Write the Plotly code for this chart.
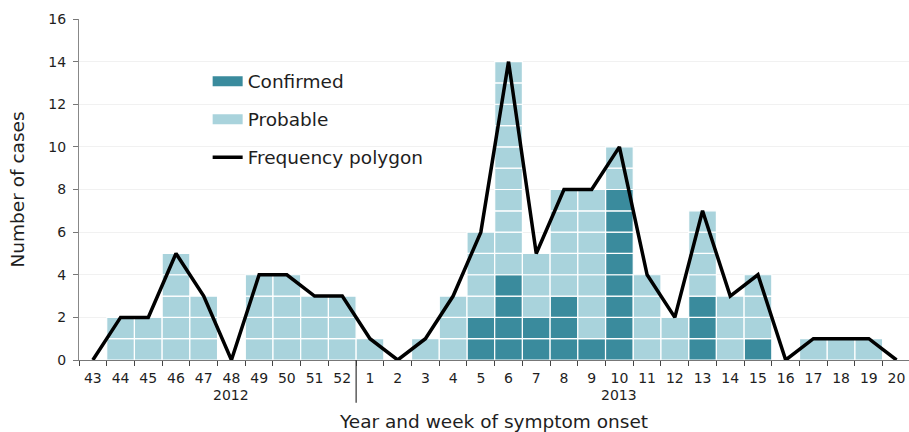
import plotly.graph_objects as go

weeks = ["43", "44", "45", "46", "47", "48", "49", "50", "51", "52",
         "1", "2", "3", "4", "5", "6", "7", "8", "9", "10",
         "11", "12", "13", "14", "15", "16", "17", "18", "19", "20"]
confirmed = [0, 0, 0, 0, 0, 0, 0, 0, 0, 0,
             0, 0, 0, 0, 2, 4, 2, 3, 1, 8,
             0, 0, 3, 0, 1, 0, 0, 0, 0, 0]
probable = [0, 2, 2, 5, 3, 0, 4, 4, 3, 3,
            1, 0, 1, 3, 4, 10, 3, 5, 7, 2,
            4, 2, 4, 3, 3, 0, 1, 1, 1, 0]
year_labels = ["2012", "2013"]
year_label_weeks = ["48", "10"]

C_CONF = "#3a8b9d"
C_PROB = "#a9d3dc"
FONT = "DejaVu Sans"
TXT = "#1e1e1e"

totals = [c + p for c, p in zip(confirmed, probable)]

# unit cells (one square per case)
cx, cb = [], []
px, pb = [], []
for w, c, p in zip(weeks, confirmed, probable):
    for k in range(c):
        cx.append(w); cb.append(k)
    for k in range(p):
        px.append(w); pb.append(c + k)

fig = go.Figure()
fig.add_trace(go.Bar(x=cx, y=[1] * len(cx), base=cb, width=1,
                     marker=dict(color=C_CONF, line=dict(color="white", width=1.2)),
                     showlegend=False, hoverinfo="skip"))
fig.add_trace(go.Bar(x=px, y=[1] * len(px), base=pb, width=1,
                     marker=dict(color=C_PROB, line=dict(color="white", width=1.2)),
                     showlegend=False, hoverinfo="skip"))
fig.add_trace(go.Scatter(x=weeks, y=totals, mode="lines",
                         line=dict(color="black", width=3.5),
                         showlegend=False))

# legend entries
fig.add_trace(go.Scatter(x=[None], y=[None], mode="lines", name="Confirmed",
                         line=dict(color=C_CONF, width=12), legendgroup="a"))
fig.add_trace(go.Scatter(x=[None], y=[None], mode="lines", name="Probable",
                         line=dict(color=C_PROB, width=12), legendgroup="b"))
fig.add_trace(go.Scatter(x=[None], y=[None], mode="lines", name="Frequency polygon",
                         line=dict(color="black", width=3.5), legendgroup="c"))

for lab, wk in zip(year_labels, year_label_weeks):
    fig.add_annotation(x=weeks.index(wk), y=-0.103, xref="x", yref="paper", text=lab,
                       showarrow=False, font=dict(family=FONT, size=14, color=TXT),
                       yanchor="middle")

fig.add_shape(type="line", x0=9.5, x1=9.5, xref="x", y0=0, y1=-0.125, yref="paper",
              line=dict(color="#333333", width=1.2))

fig.update_layout(
    width=909, height=432,
    margin=dict(l=79, r=0, t=19, b=72),
    barmode="overlay",
    plot_bgcolor="white", paper_bgcolor="white",
    font=dict(family=FONT, size=14, color=TXT),
    legend=dict(x=0.155, y=0.872, xanchor="left", yanchor="top",
                font=dict(family=FONT, size=18.5, color=TXT),
                tracegroupgap=11, itemwidth=30, bgcolor="rgba(0,0,0,0)",
                traceorder="grouped"),
    xaxis=dict(type="category", categoryorder="array", categoryarray=weeks,
               range=[-0.5, 29.45], tickson="boundaries", ticks="outside",
               ticklen=5, tickcolor="#444444", showline=True, linecolor="#777777",
               linewidth=1.2, showgrid=False, tickangle=0, ticklabelstandoff=5,
               tickfont=dict(family=FONT, size=14, color=TXT),
               title=dict(text="Year and week of symptom onset", standoff=31,
                          font=dict(family=FONT, size=18.5, color=TXT)),
               automargin=False),
    yaxis=dict(range=[0, 16], dtick=2, ticks="outside", ticklen=5,
               tickcolor="#777777", showline=True, linecolor="#888888",
               linewidth=1.2, showgrid=True, gridcolor="#f1f1f1", zeroline=False,
               ticklabelstandoff=4,
               tickfont=dict(family=FONT, size=14, color=TXT),
               title=dict(text="Number of cases", standoff=18,
                          font=dict(family=FONT, size=18.5, color=TXT)),
               automargin=False),
)

fig.write_html("out.html",
               config={"displayModeBar": False},
               post_script="document.body.style.margin='0';"
                           "document.body.style.overflow='hidden';")
